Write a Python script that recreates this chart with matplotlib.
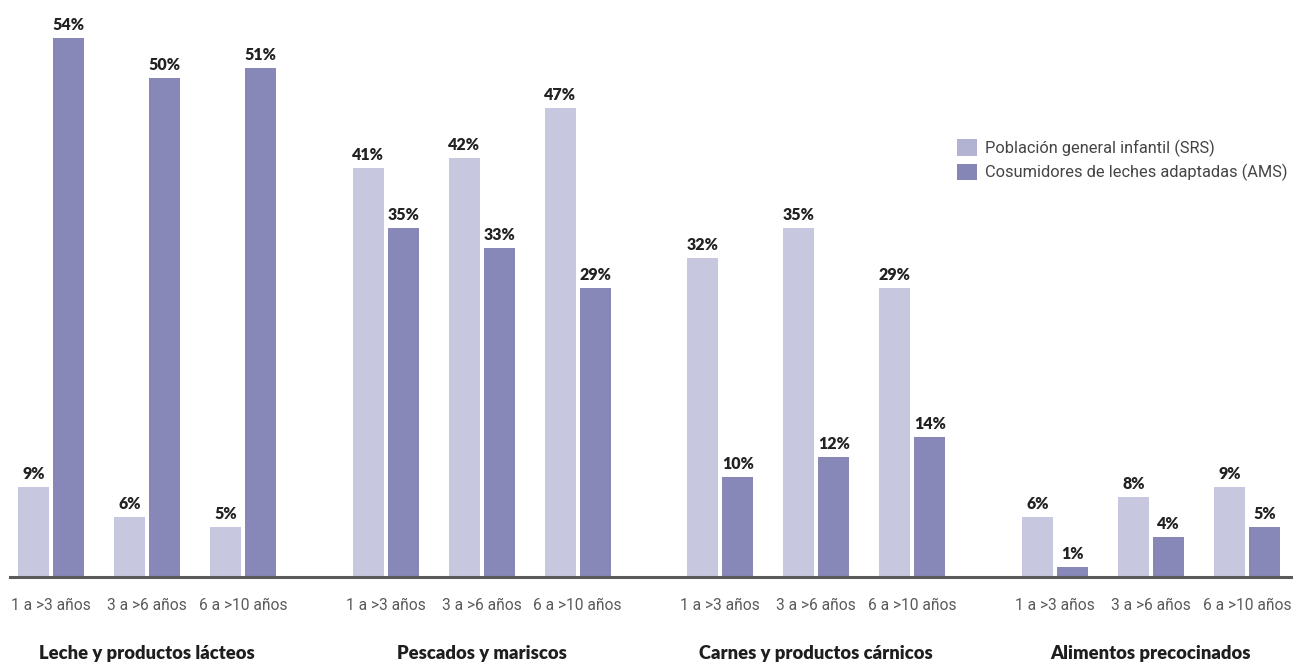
import matplotlib
matplotlib.use("Agg")
import matplotlib.pyplot as plt
from matplotlib.patches import Patch

groups = ["Leche y productos lácteos", "Pescados y mariscos",
          "Carnes y productos cárnicos", "Alimentos precocinados"]
ages = ["1 a >3 años", "3 a >6 años", "6 a >10 años"]
series_names = ["Población general infantil (SRS)", "Cosumidores de leches adaptadas (AMS)"]
srs = [[9, 6, 5], [41, 42, 47], [32, 35, 29], [6, 8, 9]]
ams = [[54, 50, 51], [35, 33, 29], [10, 12, 14], [1, 4, 5]]

light = "#c7c7e0"
dark = "#8787b8"
leg_light = "#b2b2d3"
leg_dark = "#8585b6"

W, H = 1293, 662
fig = plt.figure(figsize=(W / 100, H / 100), dpi=100)
base_px = 577
ax = fig.add_axes([10 / W, (H - base_px) / H, (W - 10) / W, base_px / H])
ax.set_xlim(10, W)
ax.set_ylim(0, base_px / 9.98)
ax.axis("off")

first_center = 147.0
group_step = 334.6
sub_step = 96.0
half_gap = 17.5
bw = 31

val_font = dict(family="Lato", weight="heavy", size=11.5, color="#222222")
tick_font = dict(family="Roboto", weight="normal", size=11.2, color="#5a5a5a")
grp_font = dict(family="Lato", weight="heavy", size=13.2, color="#1e1e1e")

for g, gname in enumerate(groups):
    gc = first_center + g * group_step
    for s, age in enumerate(ages):
        c = gc + (s - 1) * sub_step
        for val, dx, col in ((srs[g][s], -half_gap, light), (ams[g][s], half_gap, dark)):
            ax.bar(c + dx, val, width=bw, color=col, linewidth=0)
            ax.annotate(f"{val}%", xy=(c + dx, val), xytext=(0, 5),
                        textcoords="offset pixels", ha="center", va="bottom", **val_font)
        ax.annotate(age, xy=(c, 0), xytext=(0, -28), textcoords="offset pixels",
                    ha="center", va="center", annotation_clip=False, **tick_font)
    ax.annotate(gname, xy=(gc, 0), xytext=(0, -76), textcoords="offset pixels",
                ha="center", va="center", annotation_clip=False, **grp_font)

ax.axhline(0, color="#5a5a5a", linewidth=2.2, clip_on=False, zorder=5)

handles = [Patch(facecolor=leg_light, edgecolor="none"),
           Patch(facecolor=leg_dark, edgecolor="none")]
leg = fig.legend(handles, series_names, loc="upper left",
                 bbox_to_anchor=(957 / W, 1 - 139 / H), bbox_transform=fig.transFigure,
                 frameon=False, borderpad=0, borderaxespad=0,
                 handlelength=1.2, handleheight=1.2, handletextpad=0.5,
                 labelspacing=0.42, prop=dict(family="Roboto", weight="normal", size=11.8))
for t in leg.get_texts():
    t.set_color("#444444")

fig.savefig("out.png", dpi=100)
